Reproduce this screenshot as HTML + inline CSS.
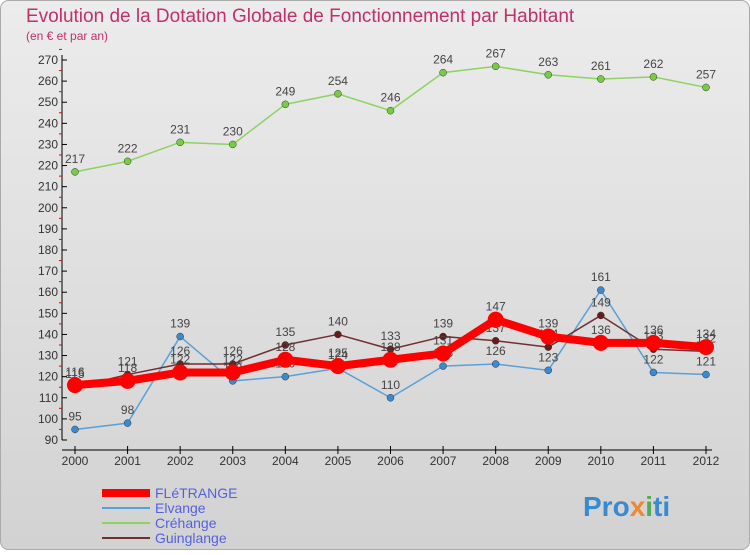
<!DOCTYPE html>
<html><head><meta charset="utf-8"><style>
body{margin:0;width:750px;height:550px;overflow:hidden;font-family:"Liberation Sans",sans-serif}
</style></head><body>
<svg width="750" height="550" xmlns="http://www.w3.org/2000/svg">
<defs><linearGradient id="bg" x1="0" y1="0" x2="0" y2="1"><stop offset="0" stop-color="#ececec"/><stop offset="1" stop-color="#d2d2d2"/></linearGradient></defs>
<rect x="0.5" y="0.5" width="749" height="549" rx="8" fill="url(#bg)" stroke="#aaa"/>
<text x="26" y="22" font-size="19" fill="#c0306a">Evolution de la Dotation Globale de Fonctionnement par Habitant</text>
<text x="26" y="40" font-size="12" fill="#c0306a">(en € et par an)</text>
<g id="axes"></g><g id="series"></g><g id="legend"></g>
<text x="583" y="516" font-size="28" font-weight="bold" fill="#3a8ad0">Pro<tspan fill="#e83">x</tspan><tspan fill="#5a5">i</tspan>ti</text>
</svg>
<script>
const years=[2000,2001,2002,2003,2004,2005,2006,2007,2008,2009,2010,2011,2012];
const fletrange=[116,118,122,122,128,125,128,131,147,139,136,136,134];
const elvange=[95,98,139,118,120,124,110,125,126,123,161,122,121];
const crehange=[217,222,231,230,249,254,246,264,267,263,261,262,257];
const guinglange=[115,121,126,126,135,140,133,139,137,134,149,133,132];
const yTicks=[90,100,110,120,130,140,150,160,170,180,190,200,210,220,230,240,250,260,270];
const NS="http://www.w3.org/2000/svg";
const xs=i=>75+i*(706-75)/12;
const ys=v=>440-(v-90)*(380/180);
function mk(t,a,p){const e=document.createElementNS(NS,t);for(const k in a)e.setAttribute(k,a[k]);p.appendChild(e);return e;}
const ax=document.getElementById('axes');
let l=mk('line',{x1:62,y1:55,x2:62,y2:440,stroke:'#000'},ax);


l=mk('line',{x1:62,y1:450,x2:712,y2:450,stroke:'#000'},ax);


yTicks.forEach(v=>{
 mk('line',{x1:62,y1:ys(v),x2:67,y2:ys(v),stroke:'#000'},ax);
 mk('line',{x1:59,y1:ys(v+5),x2:62,y2:ys(v+5),stroke:'#e00'},ax);
 const t=mk('text',{x:58,y:ys(v)+4,'font-size':12,'text-anchor':'end',fill:'#333'},ax);t.textContent=v;
 
 
});
years.forEach((y,i)=>{
 mk('line',{x1:xs(i),y1:446,x2:xs(i),y2:454,stroke:'#000'},ax);
 const t=mk('text',{x:xs(i),y:465,'font-size':12,'text-anchor':'middle',fill:'#333'},ax);t.textContent=y;
 
 
});
const sg=document.getElementById('series');
function draw(name,data,color,w,r,dot){
 const g=mk('g',{},sg);
 
 
 mk('polyline',{points:data.map((v,i)=>xs(i)+','+ys(v)).join(' '),fill:'none',stroke:color,'stroke-width':w,'stroke-linejoin':'round'},g);
 data.forEach((v,i)=>{
  const c=mk('circle',{cx:xs(i),cy:ys(v),r:r,fill:dot,stroke:'#333','stroke-width':r>6?0:0.5},g);
  
  
  const t=mk('text',{x:xs(i),y:ys(v)-9,'font-size':12,'text-anchor':'middle',fill:'#444'},g);t.textContent=v;
  
  
 });
}
draw('crehange',crehange,'#8cd460',1.5,3.5,'#7c4');
draw('elvange',elvange,'#5aa0d8',1.5,3.5,'#3a8ad0');
draw('guinglange',guinglange,'#703030',1.5,3.5,'#6a1a1a');
draw('fletrange',fletrange,'#f00',8,8,'#f00');
const lg=document.getElementById('legend');
[['FLéTRANGE','#f00',8],['Elvange','#5aa0d8',2],['Créhange','#8cd460',2],['Guinglange','#703030',2]].forEach((d,i)=>{
 const y=493+i*15;
 const g=mk('g',{},lg);
 
 
 mk('line',{x1:102,y1:y,x2:150,y2:y,stroke:d[1],'stroke-width':d[2]},g);
 const t=mk('text',{x:155,y:y+5,'font-size':14,fill:'#5560e0'},g);t.textContent=d[0];
});
</script>
</body></html>
